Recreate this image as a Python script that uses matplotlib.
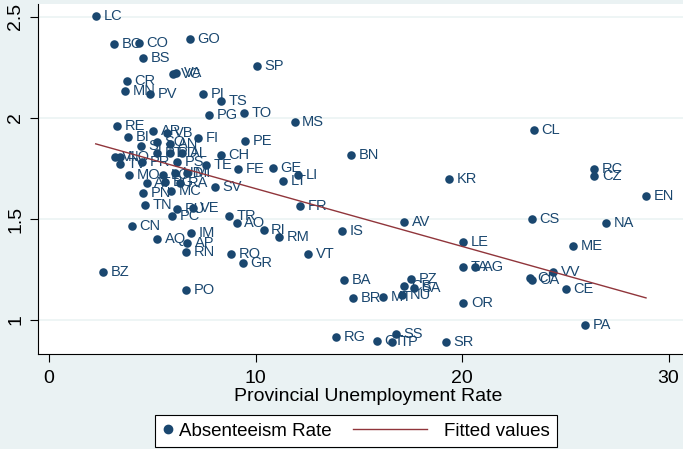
import matplotlib
matplotlib.use("Agg")
import matplotlib.pyplot as plt
import numpy as np
from matplotlib.lines import Line2D
from matplotlib.legend_handler import HandlerLine2D

plt.rcParams['font.family'] = ['Liberation Sans', 'DejaVu Sans']

# province codes, unemployment rate (%), absenteeism rate
codes = ["LC", "BC", "CO", "GO", "BS", "SP", "VC", "VA", "CR", "MN",
         "PV", "PI", "TS", "PG", "TO", "MS", "CL", "RE", "BI", "AR",
         "VB", "FI", "PE", "BN", "SI", "SO", "AN", "PT", "PD", "AL",
         "CH", "VI", "NO", "TV", "PR", "PS", "TE", "FE", "GE", "LI",
         "LT", "KR", "RC", "CZ", "EN", "MO", "LO", "UD", "MI", "AT",
         "BG", "RA", "SV", "PN", "MC", "TN", "PU", "VE", "PC", "TR",
         "AO", "RI", "RM", "IS", "AV", "CS", "NA", "FR", "CN", "AQ",
         "IM", "AP", "RN", "RO", "GR", "VT", "BZ", "PO", "LE", "ME",
         "TA", "AG", "VV", "CI", "CA", "CE", "BA", "PZ", "CB", "SA",
         "NU", "MT", "BR", "OR", "PA", "RG", "CT", "SS", "TP", "SR"]

unemp = [2.26, 3.16, 4.36, 6.83, 4.57, 10.06, 6.02, 6.15, 3.76, 3.69,
         4.91, 7.44, 8.31, 7.76, 9.43, 11.89, 23.49, 3.31, 3.83, 5.05,
         5.69, 7.23, 9.51, 14.61, 4.43, 5.23, 5.86, 5.22, 5.86, 6.44,
         8.31, 3.17, 3.44, 3.44, 4.49, 6.18, 7.62, 9.14, 10.83, 12.07,
         11.35, 19.38, 26.41, 26.41, 28.91, 3.89, 5.54, 6.10, 6.67, 4.73,
         5.62, 6.34, 8.04, 4.54, 5.91, 4.65, 6.21, 6.96, 5.94, 8.73,
         9.09, 10.39, 11.15, 14.17, 17.21, 23.39, 26.96, 12.15, 4.00, 5.22,
         6.86, 6.70, 6.63, 8.81, 9.39, 12.56, 2.63, 6.63, 20.06, 25.36,
         20.06, 20.65, 24.42, 23.27, 23.37, 25.04, 14.29, 17.55, 17.17, 17.65,
         17.09, 16.19, 14.74, 20.06, 25.96, 13.90, 15.87, 16.80, 16.60, 19.22]

absent = [2.506, 2.365, 2.373, 2.393, 2.296, 2.256, 2.218, 2.221, 2.183, 2.134,
          2.117, 2.120, 2.084, 2.015, 2.023, 1.982, 1.941, 1.958, 1.907, 1.937,
          1.927, 1.901, 1.885, 1.819, 1.861, 1.883, 1.869, 1.827, 1.825, 1.825,
          1.817, 1.808, 1.807, 1.770, 1.784, 1.784, 1.765, 1.746, 1.754, 1.720,
          1.688, 1.697, 1.746, 1.713, 1.615, 1.718, 1.718, 1.726, 1.726, 1.677,
          1.685, 1.677, 1.660, 1.627, 1.639, 1.567, 1.548, 1.553, 1.517, 1.515,
          1.479, 1.446, 1.409, 1.442, 1.484, 1.500, 1.482, 1.564, 1.467, 1.402,
          1.429, 1.380, 1.335, 1.327, 1.281, 1.327, 1.238, 1.149, 1.386, 1.366,
          1.262, 1.262, 1.236, 1.210, 1.198, 1.155, 1.198, 1.201, 1.167, 1.158,
          1.126, 1.114, 1.109, 1.084, 0.975, 0.917, 0.895, 0.929, 0.893, 0.889]

navy = '#1a476f'
maroon = '#90353b'
bg = '#eaf2f3'

x = np.array(unemp)
y = np.array(absent)

fig = plt.figure(figsize=(6.83, 4.49), dpi=100, facecolor=bg)
ax = fig.add_axes([37.5 / 683, 1 - 354 / 449, 662 / 683, 350 / 449])
ax.set_facecolor('white')

ax.scatter(x, y, s=38, color=navy, zorder=3, linewidths=0)
for c, xi, yi in zip(codes, x, y):
    ax.annotate(c, (xi, yi), xytext=(5.5, 0), textcoords='offset points',
                fontsize=10.5, color=navy, ha='left', va='center', zorder=4)

# linear fit
b, a = np.polyfit(x, y, 1)
xf = np.array([x.min(), x.max()])
ax.plot(xf, a + b * xf, color=maroon, lw=1.0, zorder=5)

ax.set_xlim(-0.56, 31.5)
ax.set_ylim(0.832, 2.564)
ax.set_xticks([0, 10, 20, 30])
ax.set_yticks([1, 1.5, 2, 2.5])
ax.set_yticklabels(['1', '1.5', '2', '2.5'])
ax.grid(axis='y', color=bg, lw=1.1)
ax.set_axisbelow(True)

for s in ['top', 'right']:
    ax.spines[s].set_visible(False)
for s in ['left', 'bottom']:
    ax.spines[s].set_linewidth(0.8)
    ax.spines[s].set_color('black')

ax.tick_params(axis='both', direction='out', length=6, width=0.8, labelsize=14)
ax.tick_params(axis='y', pad=3.5, labelrotation=90)
ax.tick_params(axis='x', pad=5.5)
plt.setp(ax.get_yticklabels(), va='center')

ax.set_xlabel('Provincial Unemployment Rate', fontsize=14, labelpad=1)


class LongLine(HandlerLine2D):
    # draw the fitted-line key longer than the handle box
    def get_xdata(self, legend, xdescent, ydescent, width, height, fontsize):
        xd = np.array([-xdescent + width - 4.56 * fontsize,
                       -xdescent + width - 0.62 * fontsize])
        return xd, xd


h1 = Line2D([], [], marker='o', ls='none', color=navy, markersize=6)
h2 = Line2D([], [], color=maroon, lw=1.0)
leg = fig.legend([h1, h2], ['Absenteeism Rate', 'Fitted values'],
                 loc='upper left', bbox_to_anchor=(155 / 683, 1 - 415 / 449),
                 bbox_transform=fig.transFigure, ncol=2, fontsize=13.5,
                 handlelength=0.59, handletextpad=0.29, columnspacing=5.1,
                 borderpad=0.4, borderaxespad=0, fancybox=False,
                 framealpha=1, edgecolor='black',
                 handler_map={h2: LongLine()})
leg.get_frame().set_linewidth(0.8)

fig.savefig('out.png', dpi=100, facecolor=bg)
